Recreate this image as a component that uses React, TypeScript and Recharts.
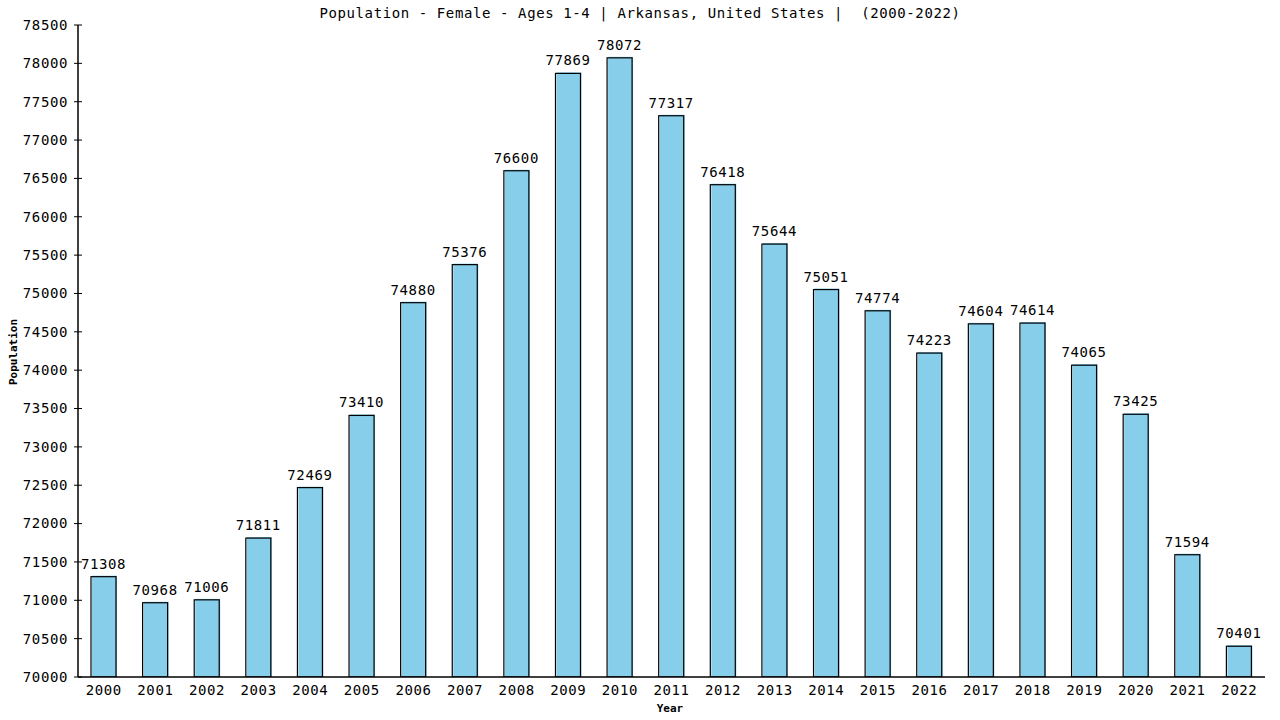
import React from 'react';
import { BarChart, Bar, XAxis, YAxis, LabelList } from 'recharts';

const years = ['2000','2001','2002','2003','2004','2005','2006','2007','2008','2009','2010','2011','2012','2013','2014','2015','2016','2017','2018','2019','2020','2021','2022'];
const population = [71308,70968,71006,71811,72469,73410,74880,75376,76600,77869,78072,77317,76418,75644,75051,74774,74223,74604,74614,74065,73425,71594,70401];
const yTicks = [70000,70500,71000,71500,72000,72500,73000,73500,74000,74500,75000,75500,76000,76500,77000,77500,78000,78500];

const data = years.map((y, i) => ({ year: y, value: population[i] }));

const FONT = '"DejaVu Sans Mono", monospace';
const FS = 14;
const LS = 0.6;

const BarShape = (props: any) => {
  const { x, y, width, height } = props;
  return (
    <g>
      <rect x={x + 1} y={y - 1} width={width} height={height + 1} fill="#87CEEB" />
      <rect x={x} y={y} width={width} height={height} fill="none" stroke="#000" strokeWidth={1.2} />
    </g>
  );
};

const YTick = (props: any) => {
  const { x, y, payload } = props;
  return (
    <g>
      <line x1={x + 4} x2={x + 12} y1={y} y2={y} stroke="#000" />
      <text x={x - 2} y={y} dy="0.35em" textAnchor="end" fontFamily={FONT} fontSize={FS} letterSpacing={LS} fill="#000">
        {payload.value}
      </text>
    </g>
  );
};

export default function App() {
  return (
    <div style={{ position: 'absolute', left: 0, top: 0, width: 1280, height: 720, background: '#fff' }}>
      <div style={{ position: 'absolute', left: 0, top: 4, width: 1280, textAlign: 'center', fontFamily: FONT, fontSize: FS, letterSpacing: LS, color: '#000', whiteSpace: 'pre', lineHeight: '18px' }}>
        {'Population - Female - Ages 1-4 | Arkansas, United States |  (2000-2022)'}
      </div>
      <div style={{ position: 'absolute', left: 0, top: 702, width: 1340, textAlign: 'center', fontFamily: FONT, fontSize: 11, fontWeight: 'bold', color: '#000', lineHeight: '14px' }}>
        Year
      </div>
      <div style={{ position: 'absolute', left: 13, top: 352, width: 0, height: 0 }}>
        <div style={{ position: 'absolute', transform: 'translate(-50%, -50%) rotate(-90deg)', fontFamily: FONT, fontSize: 11, fontWeight: 'bold', color: '#000', whiteSpace: 'nowrap' }}>
          Population
        </div>
      </div>
      <BarChart
        width={1280}
        height={720}
        data={data}
        margin={{ top: 25, right: 15, bottom: 0, left: 18 }}
        barSize={25}
        style={{ position: 'absolute', left: 0, top: 0 }}
      >
        <XAxis
          dataKey="year"
          height={43}
          tickLine={false}
          tickSize={0}
          tickMargin={8}
          axisLine={{ stroke: '#000', strokeWidth: 1.5 }}
          tick={{ fontFamily: FONT, fontSize: FS, letterSpacing: LS, fill: '#000' }}
          interval={0}
        />
        <YAxis
          yAxisId="l"
          width={60}
          domain={[70000, 78500]}
          ticks={yTicks}
          allowDataOverflow
          tickLine={false}
          axisLine={{ stroke: '#000', strokeWidth: 1.5 }}
          tick={<YTick />}
          interval={0}
        />
        <YAxis
          yAxisId="r"
          orientation="right"
          width={0}
          domain={[70000, 78500]}
          tick={false}
          tickLine={false}
          axisLine={{ stroke: '#000', strokeWidth: 1.5 }}
        />
        <Bar yAxisId="l" dataKey="value" shape={<BarShape />} isAnimationActive={false}>
          <LabelList dataKey="value" position="top" offset={8} fontFamily={FONT} fontSize={FS} letterSpacing={LS} fill="#000" />
        </Bar>
      </BarChart>
    </div>
  );
}
